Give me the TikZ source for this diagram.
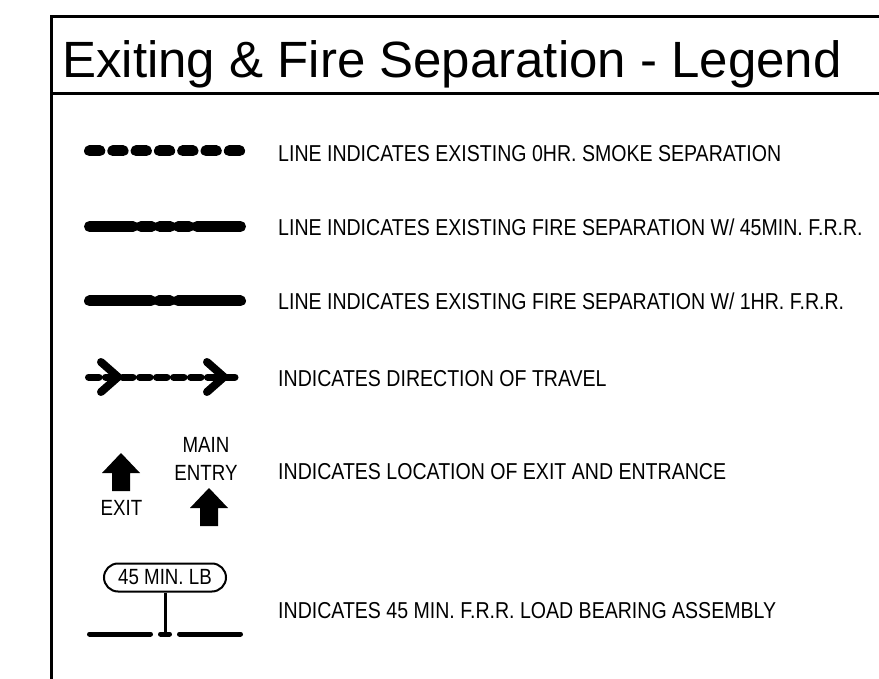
\documentclass[tikz,border=0pt]{standalone}
\usepackage{fontspec}
\setmainfont{Liberation Sans}
\newfontfamily\narrowfont[FakeStretch=0.85]{Liberation Sans}
\usetikzlibrary{positioning}

\begin{document}
\begin{tikzpicture}[x=1pt, y=-1pt,
	legend text/.style={anchor=base west, inner sep=0pt, font=\narrowfont\fontsize{23}{23}\selectfont},
	icon text/.style={anchor=base, inner sep=0pt, font=\narrowfont\fontsize{22}{22}\selectfont},
	sep line/.style={line width=11pt, line cap=round}]
	\useasboundingbox (0, 0) rectangle (879, 679);
	\clip (0, 0) rectangle (879, 679);
	\draw[line width=3pt] (51, 700) -- (51, 17) -- (900, 17);
	\draw[line width=3pt] (51, 94) -- (900, 94);
	\node[anchor=base west, inner sep=0pt, font=\fontsize{51}{51}\selectfont] (title) at (62, 78) {Exiting \& Fire Separation - Legend};

	\draw[sep line, dash pattern=on 10.3pt off 13pt] (89.5, 151) -- (240.5, 151);
	\node[legend text] (smoke) at (278, 161.5) {LINE INDICATES EXISTING 0HR. SMOKE SEPARATION};

	\foreach \a/\b in {89.5/133, 141/151.7, 159.7/170.3, 178.3/189, 197/240.5}
		\draw[sep line] (\a, 226.5) -- (\b, 226.5);
	\node[legend text] (fire45) at (278, 236) {LINE INDICATES EXISTING FIRE SEPARATION W/ 45MIN. F.R.R.};

	\foreach \a/\b in {89.5/151, 159/170, 178/240.5}
		\draw[sep line] (\a, 301) -- (\b, 301);
	\node[legend text] (fire1) at (278, 310) {LINE INDICATES EXISTING FIRE SEPARATION W/ 1HR. F.R.R.};

	\draw[line width=7pt, line cap=round, dash pattern=on 10.5pt off 6.5pt] (88.5, 377) -- (239.5, 377);
	\foreach \x in {101, 207}
		\draw[line width=8pt, line cap=round, line join=round] (\x, 362) -- ++(17, 15) -- ++(-17, 15);
	\node[legend text] (travel) at (278, 386) {INDICATES DIRECTION OF TRAVEL};

	\foreach \x/\y in {121/453, 209/488}
		\fill (\x, \y) -- ++(19, 20) -- ++(-10, 0) -- ++(0, 18) -- ++(-18, 0) -- ++(0, -18) -- ++(-10, 0) -- cycle;
	\node[icon text] (exit) at (121.5, 515) {EXIT};
	\node[icon text] (main) at (206, 452) {MAIN};
	\node[icon text] (entry) at (206, 480) {ENTRY};
	\node[legend text] (exits) at (278, 479) {INDICATES LOCATION OF EXIT AND ENTRANCE};

	\node[draw, line width=2pt, rounded corners=14pt, minimum width=122pt, minimum height=28pt, inner sep=0pt, font=\narrowfont\fontsize{22}{22}\selectfont] (lb) at (165, 577.5) {45 MIN. LB};
	\coordinate (lbfoot) at (165, 633);
	\draw[line width=3pt] (lb.south) -- (lbfoot);
	\foreach \a/\b in {89.5/150.5, 160.5/169.5, 179.5/240.5}
		\draw[line width=5pt, line cap=round] (\a, 634) -- (\b, 634);
	\node[legend text] (lbtext) at (278, 618) {INDICATES 45 MIN. F.R.R. LOAD BEARING ASSEMBLY};
\end{tikzpicture}
\end{document}
